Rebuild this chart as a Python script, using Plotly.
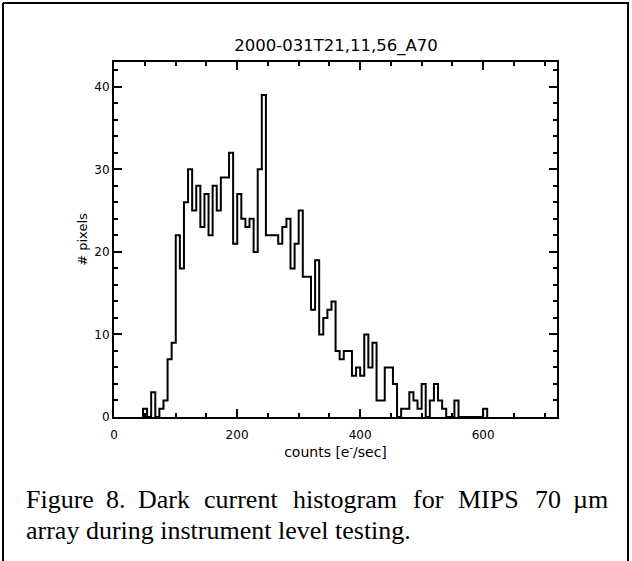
import plotly.graph_objects as go

# ---- data ----
title_text = "2000-031T21,11,56_A70"
x_label = "counts [e<sup>-</sup>/sec]"
y_label = "# pixels"
bin_start = 47.1          # left edge of first bin (e-/sec)
bin_width = 6.66          # bin width (e-/sec)
counts = [1, 0, 3, 0, 1, 2, 7, 9, 22, 18,
          26, 30, 25, 28, 23, 27, 22, 28, 25, 29,
          29, 32, 21, 27, 24, 23, 24, 20, 30, 39,
          22, 22, 22, 21, 23, 24, 18, 21, 25, 17,
          17, 13, 19, 10, 12, 13, 14, 8, 7, 8,
          8, 5, 6, 5, 10, 6, 9, 2, 2, 6,
          6, 4, 0, 1, 1, 3, 2, 1, 4, 0,
          2, 4, 2, 1, 0, 0, 2, 0, 0, 0,
          0, 0, 0, 1]
x_ticks = [0, 200, 400, 600]
y_ticks = [0, 10, 20, 30, 40]
x_range = [0, 720]
y_range = [0, 43]
caption_1_words = ["Figure", "8.", "Dark", "current", "histogram", "for", "MIPS", "70", "\u00b5m"]
caption_2 = "array during instrument level testing."

# ---- build step outline ----
edges = [bin_start + i * bin_width for i in range(len(counts) + 1)]
xs = [edges[0]] + edges[:-1] + [edges[-1]]
ys = [0] + counts + [0]

W, H = 632, 561
L, R, T, B = 114, 75, 62, 144
pw, ph = W - L - R, H - T - B

def px(x):
    return (x - L) / pw

def py(y):
    return (H - B - y) / ph

fig = go.Figure()
fig.add_trace(go.Scatter(x=xs, y=ys, mode="lines",
                         line=dict(shape="hv", color="black", width=2),
                         showlegend=False, hoverinfo="skip"))

sans = "DejaVu Sans, Liberation Sans, sans-serif"
tick_font = dict(family=sans, size=12, color="black")

fig.update_layout(
    width=W, height=H,
    margin=dict(l=L, r=R, t=T, b=B),
    paper_bgcolor="white", plot_bgcolor="white",
    font=tick_font,
    title=dict(text=title_text, x=336 / W, xanchor="center",
               y=1 - 45 / H, yanchor="middle",
               font=dict(family=sans, size=16.5, color="black")),
    xaxis=dict(range=x_range, tickvals=x_ticks, ticks="inside", ticklen=8, tickwidth=1.5,
               tickcolor="black", showline=True, linewidth=2, linecolor="black",
               mirror="allticks", showgrid=False, zeroline=False, tickfont=tick_font,
               minor=dict(dtick=50, ticks="inside", ticklen=4, tickwidth=1.5, tickcolor="black", showgrid=False),
               ticklabelstandoff=6,
               title=dict(text=x_label, standoff=3, font=dict(family=sans, size=14, color="black"))),
    yaxis=dict(range=y_range, tickvals=y_ticks, ticks="inside", ticklen=8, tickwidth=1.5,
               tickcolor="black", showline=True, linewidth=2, linecolor="black",
               mirror="allticks", showgrid=False, zeroline=False, tickfont=tick_font,
               minor=dict(dtick=2, ticks="inside", ticklen=4, tickwidth=1.5, tickcolor="black", showgrid=False),
               ticklabelstandoff=0,
               title=dict(text=y_label, standoff=4, font=dict(family=sans, size=13, color="black"))),
)

# caption (first line is justified in the reference, so words are placed individually)
cap_font = dict(family="Liberation Serif, Times New Roman, serif", size=26, color="black")
word_x = [24, 104, 136, 202, 291, 411, 456, 533, 571]
for wtxt, wx in zip(caption_1_words, word_x):
    fig.add_annotation(text=wtxt, xref="paper", yref="paper", x=px(wx), y=py(483),
                       xanchor="left", yanchor="top", showarrow=False, font=cap_font)
fig.add_annotation(text=caption_2, xref="paper", yref="paper", x=px(24), y=py(514),
                   xanchor="left", yanchor="top", showarrow=False, font=cap_font)

# frame lines
frame = dict(color="black", width=2)
fig.add_shape(type="line", xref="paper", yref="paper", x0=px(3), x1=px(629), y0=py(3), y1=py(3), line=frame)
fig.add_shape(type="line", xref="paper", yref="paper", x0=px(3), x1=px(3), y0=py(3), y1=py(561), line=frame)
fig.add_shape(type="line", xref="paper", yref="paper", x0=px(628), x1=px(628), y0=py(3), y1=py(561), line=frame)

fig.write_html("out.html")
